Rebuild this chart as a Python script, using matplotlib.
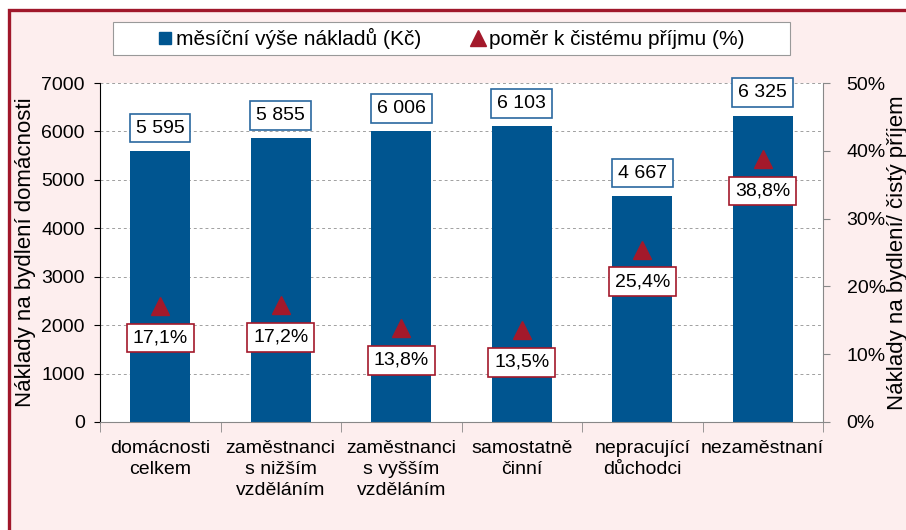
import numpy as np
import matplotlib.pyplot as plt
from matplotlib.patches import Rectangle
from matplotlib.lines import Line2D
from matplotlib.ticker import FuncFormatter

plt.rcParams['font.family'] = ['Liberation Sans', 'DejaVu Sans']

# data
categories = ['domácnosti\ncelkem', 'zaměstnanci\ns nižším\nvzděláním',
              'zaměstnanci\ns vyšším\nvzděláním', 'samostatně\nčinní',
              'nepracující\ndůchodci', 'nezaměstnaní']
costs = [5595, 5855, 6006, 6103, 4667, 6325]
ratio = [17.1, 17.2, 13.8, 13.5, 25.4, 38.8]

bar_color = '#005590'
tri_color = '#A3192B'
fs = 14

fig = plt.figure(figsize=(9.06, 5.30), dpi=100)
fig.patch.set_facecolor('white')
# pink panel with dark red border (left/top visible)
fig.patches.append(Rectangle((8.5 / 906, -0.1), 1.2, 1 - 9.5 / 530 + 0.1,
                             transform=fig.transFigure, facecolor='#FDEEEE',
                             edgecolor='#A0172A', lw=2.4, zorder=-10))

ax = fig.add_axes([100 / 906, 1 - 422 / 530, 723 / 906, 339 / 530])
ax.set_facecolor('white')
x = np.arange(len(categories))
ax.bar(x, costs, width=0.5, color=bar_color, zorder=2)
ax.set_xlim(-0.5, len(categories) - 0.5)
ax.set_ylim(0, 7000)
ax.set_yticks(range(0, 7001, 1000))
ax.yaxis.grid(True, ls=(0, (3, 3)), color='#A0A0A0', lw=0.7, zorder=0)
ax.set_axisbelow(True)

ax.set_xticks(x)
ax.set_xticklabels(categories, fontsize=fs, linespacing=1.3)
ax.set_xticks(np.arange(-0.5, len(categories)), minor=True)
ax.tick_params(axis='x', which='major', length=0, pad=13)
ax.tick_params(axis='x', which='minor', length=7, color='#888888', direction='out')
ax.tick_params(axis='y', labelsize=fs, length=4, pad=7, direction='out')

for s in ['top', 'right']:
    ax.spines[s].set_visible(False)
ax.spines['left'].set_color('black')
ax.spines['bottom'].set_color('#888888')

ax.set_ylabel('Náklady na bydlení domácnosti', fontsize=16)
ax.yaxis.set_label_coords(-0.088, 0.5)

for xi, v in zip(x, costs):
    ax.annotate(f'{v:,}'.replace(',', ' '), (xi, v), xytext=(0, 16.5),
                textcoords='offset points', ha='center', va='center', fontsize=fs,
                bbox=dict(boxstyle='square,pad=0.3', fc='white', ec='#2A68A0', lw=1.2),
                zorder=5)

ax2 = ax.twinx()
ax2.set_ylim(0, 50)
ax2.set_yticks(range(0, 51, 10))
ax2.yaxis.set_major_formatter(FuncFormatter(lambda v, p: f'{v:.0f}%'))
ax2.plot(x, ratio, ls='none', marker='^', ms=13, color=tri_color, zorder=4)
ax2.tick_params(axis='y', labelsize=fs, length=5, pad=12, color='#888888')
for s in ['top', 'left', 'bottom']:
    ax2.spines[s].set_visible(False)
ax2.spines['right'].set_color('#888888')
ax2.set_ylabel('Náklady na bydlení/ čistý příjem', fontsize=16)
ax2.yaxis.set_label_coords(1.088, 0.5)

for xi, v in zip(x, ratio):
    ax2.annotate(f'{v:.1f}%'.replace('.', ','), (xi, v), xytext=(0, -23),
                 textcoords='offset points', ha='center', va='center', fontsize=fs,
                 bbox=dict(boxstyle='square,pad=0.3', fc='white', ec=tri_color, lw=1.2),
                 zorder=5)

# legend
fig.patches.append(Rectangle((113 / 906, 1 - 55 / 530), 677 / 906, 33 / 530,
                             transform=fig.transFigure, facecolor='white',
                             edgecolor='#999999', lw=0.8))
handles = [Line2D([], [], ls='none', marker='s', ms=9, color=bar_color),
           Line2D([], [], ls='none', marker='^', ms=11, color=tri_color)]
fig.legend(handles, ['měsíční výše nákladů (Kč)', 'poměr k čistému příjmu (%)'],
           loc='center', bbox_to_anchor=(451.5 / 906, 1 - 38.5 / 530), ncol=2,
           frameon=False, fontsize=15, handlelength=0.6, handletextpad=0.25,
           columnspacing=2.4)

fig.savefig('out.png', dpi=100)
